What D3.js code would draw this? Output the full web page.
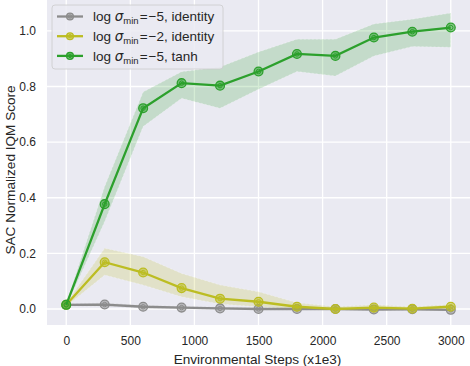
<!DOCTYPE html>
<html>
<head>
<meta charset="utf-8">
<script src="https://cdn.jsdelivr.net/npm/d3@7"></script>
<style>
  body { margin: 0; background: #fff; }
  text { font-family: "Liberation Sans", Arial, sans-serif; fill: #262626; }
</style>
</head>
<body>
<div id="chart-area"></div>
<script>
var width = 470, height = 366;
var plot = {left: 47, right: 470, top: 0, bottom: 325};

var steps = [0, 300, 600, 900, 1200, 1500, 1800, 2100, 2400, 2700, 3000];

// log sigma_min = -5, identity
var grayMean  = [0.015, 0.016, 0.008, 0.005, 0.002, 0.000, 0.000, 0.000, -0.002, -0.001, -0.003];
var grayLow   = [0.010, 0.010, 0.003, 0.000, -0.003, -0.004, -0.004, -0.004, -0.006, -0.005, -0.007];
var grayHigh  = [0.020, 0.022, 0.013, 0.010, 0.007, 0.004, 0.004, 0.004, 0.002, 0.003, 0.001];

// log sigma_min = -2, identity
var oliveMean = [0.015, 0.168, 0.131, 0.075, 0.037, 0.026, 0.008, 0.000, 0.005, 0.001, 0.008];
var oliveLow  = [0.010, 0.122, 0.086, 0.044, 0.018, 0.008, 0.000, -0.004, 0.000, -0.003, 0.002];
var oliveHigh = [0.020, 0.218, 0.188, 0.128, 0.086, 0.062, 0.022, 0.008, 0.015, 0.008, 0.016];

// log sigma_min = -5, tanh
var greenMean = [0.015, 0.377, 0.722, 0.812, 0.803, 0.854, 0.917, 0.910, 0.976, 0.997, 1.012];
var greenLow  = [0.010, 0.315, 0.656, 0.758, 0.722, 0.790, 0.854, 0.838, 0.910, 0.944, 0.941];
var greenHigh = [0.020, 0.440, 0.780, 0.853, 0.870, 0.924, 0.970, 0.970, 1.025, 1.042, 1.064];

var xTicks = [0, 500, 1000, 1500, 2000, 2500, 3000];
var yTicks = [0.0, 0.2, 0.4, 0.6, 0.8, 1.0];

var series = [
    {label: "\u22125", act: ", identity", color: "#8c8c8c", mean: grayMean, low: grayLow, high: grayHigh},
    {label: "\u22122", act: ", identity", color: "#bcbd22", mean: oliveMean, low: oliveLow, high: oliveHigh},
    {label: "\u22125", act: ", tanh", color: "#2ca02c", mean: greenMean, low: greenLow, high: greenHigh}
];

var svg = d3.select("#chart-area").append("svg")
    .attr("width", width)
    .attr("height", height);

var x = d3.scaleLinear().domain([-150, 3150]).range([plot.left, plot.right]);
var y = d3.scaleLinear().domain([-0.0576, 1.111]).range([plot.bottom, plot.top]);

svg.append("rect")
    .attr("x", plot.left).attr("y", plot.top)
    .attr("width", plot.right - plot.left).attr("height", plot.bottom - plot.top)
    .attr("fill", "#eaeaf2");

// grid
svg.append("g").selectAll("line").data(xTicks).enter().append("line")
    .attr("x1", function(d){ return x(d); }).attr("x2", function(d){ return x(d); })
    .attr("y1", plot.top).attr("y2", plot.bottom)
    .attr("stroke", "#fff").attr("stroke-width", 1.3);
svg.append("g").selectAll("line").data(yTicks).enter().append("line")
    .attr("y1", function(d){ return y(d); }).attr("y2", function(d){ return y(d); })
    .attr("x1", plot.left).attr("x2", plot.right)
    .attr("stroke", "#fff").attr("stroke-width", 1.3);

// axes (no domain line, no ticks, seaborn style)
var xAxis = svg.append("g")
    .attr("transform", "translate(0," + plot.bottom + ")")
    .call(d3.axisBottom(x).tickValues(xTicks).tickSize(0).tickPadding(11).tickFormat(d3.format("d")));
var yAxis = svg.append("g")
    .attr("transform", "translate(" + plot.left + ",0)")
    .call(d3.axisLeft(y).tickValues(yTicks).tickSize(0).tickPadding(11).tickFormat(d3.format(".1f")));
[xAxis, yAxis].forEach(function(a){
    a.select(".domain").remove();
    a.selectAll("text").attr("font-size", "12px").attr("fill", "#262626")
        .attr("font-family", "'Liberation Sans', Arial, sans-serif");
});

svg.append("text")
    .attr("x", (plot.left + plot.right) / 2 - 1)
    .attr("y", 364)
    .attr("text-anchor", "middle")
    .attr("font-size", "13.6px")
    .text("Environmental Steps (x1e3)");

svg.append("text")
    .attr("transform", "rotate(-90)")
    .attr("x", -y(0.5))
    .attr("y", 15)
    .attr("text-anchor", "middle")
    .attr("font-size", "13.6px")
    .text("SAC Normalized IQM Score");

// bands
var area = d3.area()
    .x(function(d){ return x(d.step); })
    .y0(function(d){ return y(d.low); })
    .y1(function(d){ return y(d.high); });
var line = d3.line()
    .x(function(d){ return x(d.step); })
    .y(function(d){ return y(d.mean); });

series.forEach(function(s){
    s.points = steps.map(function(st, i){
        return {step: st, mean: s.mean[i], low: s.low[i], high: s.high[i]};
    });
});

series.forEach(function(s){
    svg.append("path")
        .datum(s.points)
        .attr("d", area)
        .attr("fill", s.color)
        .attr("fill-opacity", 0.2)
        .attr("stroke", "#fff")
        .attr("stroke-opacity", 0.35)
        .attr("stroke-dasharray", "2,2")
        .attr("stroke-width", 0.8);
});

function drawMarker(g, cx, cy, color, r) {
    g.append("circle")
        .attr("cx", cx).attr("cy", cy).attr("r", r)
        .attr("fill", color).attr("fill-opacity", 0.55)
        .attr("stroke", color).attr("stroke-width", 1.3);
    g.append("circle")
        .attr("cx", cx).attr("cy", cy).attr("r", r / 2)
        .attr("fill", "none")
        .attr("stroke", color).attr("stroke-width", 1);
}

series.forEach(function(s){
    svg.append("path")
        .datum(s.points)
        .attr("d", line)
        .attr("fill", "none")
        .attr("stroke", s.color)
        .attr("stroke-width", 2.3);
    var g = svg.append("g");
    s.points.forEach(function(p){
        drawMarker(g, x(p.step), y(p.mean), s.color, 4.4);
    });
});

// legend
var legend = svg.append("g").attr("transform", "translate(52,5)");
legend.append("rect")
    .attr("width", 171).attr("height", 64)
    .attr("rx", 3)
    .attr("fill", "#eaeaf2").attr("fill-opacity", 0.85)
    .attr("stroke", "#cccccc").attr("stroke-width", 0.8);

series.forEach(function(s, i){
    var row = legend.append("g").attr("transform", "translate(0," + (11.5 + i * 19.7) + ")");
    row.append("line")
        .attr("x1", 5).attr("x2", 31)
        .attr("stroke", s.color).attr("stroke-width", 2.3);
    drawMarker(row, 18, 0, s.color, 3.4);
    var t = row.append("text")
        .attr("x", 41).attr("y", 4.8)
        .attr("font-size", "13.5px");
    t.append("tspan").text("log ");
    t.append("tspan").attr("font-style", "italic").attr("font-family", "'DejaVu Sans', sans-serif").text("\u03c3");
    t.append("tspan").attr("font-size", "9.5px").attr("dy", 3).text("min");
    t.append("tspan").attr("dy", -3).attr("dx", 1).text("=");
    t.append("tspan").attr("dx", 1).text(s.label + s.act);
});
</script>
</body>
</html>
